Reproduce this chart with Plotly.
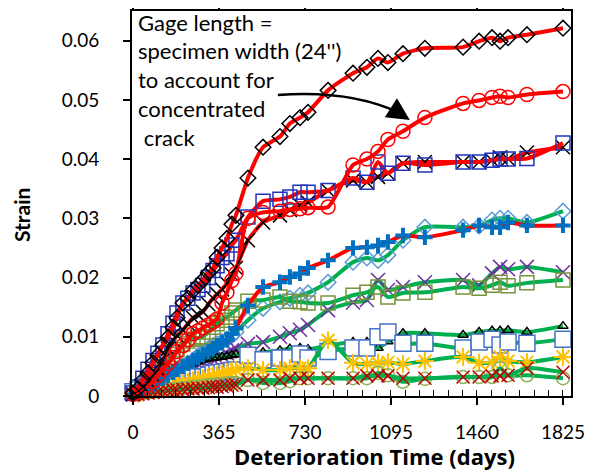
import plotly.graph_objects as go

# ── data (days, strain) ────────────────────────────────────────────────
days = [0, 21, 42, 64, 85, 106, 127, 149, 170, 187, 212, 233, 255, 276, 297, 320, 340,
        357, 378, 399, 420, 437, 488, 552, 624, 666, 709, 743, 828, 934, 993, 1040, 1082,
        1146, 1239, 1401, 1469, 1524, 1558, 1592, 1672, 1825]

black_diamond = [0.0005, 0.0012, 0.0027, 0.0039, 0.0056, 0.0069, 0.0086, 0.0099, 0.0116, 0.0132,
                 0.0157, 0.0165, 0.0178, 0.0187, 0.0196, 0.0208, 0.0216, 0.0234, 0.0250, 0.0266,
                 0.0290, 0.0305, 0.0368, 0.0420, 0.0438, 0.0460, 0.0470, 0.0479, 0.0516, 0.0545,
                 0.0555, 0.0570, 0.0563, 0.0578, 0.0587, 0.0589, 0.0599, 0.0605, 0.0599, 0.0605,
                 0.0610, 0.0621]
red_circle = [0.0003, 0.0005, 0.0010, 0.0018, 0.0025, 0.0035, 0.0045, 0.0055, 0.0065, 0.0075,
              0.0085, 0.0095, 0.0105, 0.0110, 0.0115, 0.0120, 0.0125, 0.0130, 0.0157, 0.0175,
              0.0195, 0.0207, 0.0300, 0.0310, 0.0312, 0.0315, 0.0316, 0.0318, 0.0319, 0.0390,
              0.0400, 0.0413, 0.0433, 0.0447, 0.0470, 0.0494, 0.0499, 0.0504, 0.0506, 0.0504,
              0.0509, 0.0514]
blue_square = [0.0005, 0.0015, 0.0030, 0.0045, 0.0060, 0.0072, 0.0086, 0.0105, 0.0123, 0.0140,
               0.0157, 0.0165, 0.0174, 0.0180, 0.0187, 0.0200, 0.0212, 0.0220, 0.0234, 0.0240,
               0.0255, 0.0263, 0.0302, 0.0329, 0.0332, 0.0336, 0.0344, 0.0344, 0.0347, 0.0368,
               0.0361, 0.0395, 0.0376, 0.0393, 0.0390, 0.0395, 0.0395, 0.0398, 0.0400, 0.0400,
               0.0401, 0.0427]
black_x = [0.0003, 0.0008, 0.0015, 0.0025, 0.0035, 0.0045, 0.0060, 0.0080, 0.0094, 0.0102,
           0.0111, 0.0122, 0.0132, 0.0137, 0.0142, 0.0155, 0.0165, 0.0172, 0.0180, 0.0190,
           0.0205, 0.0216, 0.0263, 0.0293, 0.0305, 0.0314, 0.0322, 0.0327, 0.0347, 0.0364,
           0.0361, 0.0370, 0.0376, 0.0393, 0.0395, 0.0395, 0.0395, 0.0398, 0.0403, 0.0400,
           0.0411, 0.0420]
blue_plus = [0.0003, 0.0005, 0.0010, 0.0015, 0.0020, 0.0025, 0.0030, 0.0035, 0.0040, 0.0045,
             0.0050, 0.0055, 0.0060, 0.0065, 0.0070, 0.0075, 0.0080, 0.0085, 0.0090, 0.0095,
             0.0105, 0.0115, 0.0153, 0.0184, 0.0192, 0.0201, 0.0207, 0.0216, 0.0229, 0.0250,
             0.0251, 0.0254, 0.0260, 0.0271, 0.0268, 0.0280, 0.0288, 0.0285, 0.0285, 0.0293,
             0.0288, 0.0288]
lightblue_diamond = [0.0003, 0.0005, 0.0010, 0.0015, 0.0020, 0.0025, 0.0030, 0.0035, 0.0040, 0.0045,
                     0.0050, 0.0055, 0.0060, 0.0068, 0.0074, 0.0080, 0.0085, 0.0088, 0.0092, 0.0096,
                     0.0102, 0.0108, 0.0128, 0.0148, 0.0159, 0.0165, 0.0170, 0.0174, 0.0192, 0.0226,
                     0.0233, 0.0229, 0.0238, 0.0263, 0.0285, 0.0285, 0.0287, 0.0297, 0.0300, 0.0300,
                     0.0293, 0.0312]
purple_x = [0.0003, 0.0005, 0.0008, 0.0010, 0.0015, 0.0020, 0.0030, 0.0035, 0.0040, 0.0043,
            0.0047, 0.0050, 0.0052, 0.0055, 0.0058, 0.0060, 0.0062, 0.0064, 0.0068, 0.0072,
            0.0077, 0.0080, 0.0088, 0.0091, 0.0100, 0.0106, 0.0112, 0.0120, 0.0145, 0.0158,
            0.0162, 0.0196, 0.0179, 0.0184, 0.0192, 0.0196, 0.0187, 0.0207, 0.0218, 0.0214,
            0.0218, 0.0209]
olive_square = [0.0005, 0.0010, 0.0015, 0.0020, 0.0030, 0.0040, 0.0050, 0.0060, 0.0070, 0.0078,
                0.0088, 0.0093, 0.0096, 0.0098, 0.0100, 0.0108, 0.0116, 0.0122, 0.0128, 0.0133,
                0.0140, 0.0145, 0.0160, 0.0162, 0.0167, 0.0160, 0.0159, 0.0157, 0.0157, 0.0170,
                0.0175, 0.0184, 0.0167, 0.0174, 0.0175, 0.0184, 0.0182, 0.0187, 0.0192, 0.0186,
                0.0191, 0.0196]
black_triangle = [0.0003, 0.0005, 0.0008, 0.0010, 0.0015, 0.0020, 0.0025, 0.0030, 0.0035, 0.0040,
                  0.0045, 0.0050, 0.0055, 0.0058, 0.0061, 0.0063, 0.0064, 0.0065, 0.0066, 0.0067,
                  0.0069, 0.0070, 0.0072, 0.0074, 0.0077, 0.0080, 0.0081, 0.0079, 0.0085, 0.0091,
                  0.0091, 0.0081, 0.0092, 0.0106, 0.0106, 0.0103, 0.0108, 0.0110, 0.0110, 0.0111,
                  0.0108, 0.0118]
white_square = [0.0007, 0.0010, 0.0015, 0.0020, 0.0027, 0.0027, 0.0027, 0.0029, 0.0030, 0.0030,
                0.0030, 0.0031, 0.0032, 0.0032, 0.0032, 0.0035, 0.0038, 0.0039, 0.0040, 0.0041,
                0.0043, 0.0044, 0.0069, 0.0061, 0.0064, 0.0064, 0.0071, 0.0064, 0.0075, 0.0081,
                0.0081, 0.0100, 0.0108, 0.0089, 0.0089, 0.0081, 0.0091, 0.0096, 0.0086, 0.0091,
                0.0089, 0.0096]
gold_star = [0.0003, 0.0004, 0.0006, 0.0008, 0.0010, 0.0012, 0.0014, 0.0016, 0.0018, 0.0020,
             0.0022, 0.0024, 0.0026, 0.0028, 0.0030, 0.0032, 0.0034, 0.0036, 0.0038, 0.0040,
             0.0042, 0.0044, 0.0047, 0.0044, 0.0044, 0.0047, 0.0047, 0.0047, 0.0094, 0.0056,
             0.0054, 0.0056, 0.0057, 0.0054, 0.0059, 0.0066, 0.0056, 0.0057, 0.0066, 0.0059,
             0.0057, 0.0066]
green_circle = [0.0003, 0.0003, 0.0005, 0.0006, 0.0007, 0.0008, 0.0009, 0.0010, 0.0011, 0.0012,
                0.0013, 0.0014, 0.0015, 0.0016, 0.0017, 0.0018, 0.0019, 0.0020, 0.0020, 0.0021,
                0.0022, 0.0022, 0.0027, 0.0022, 0.0022, 0.0025, 0.0030, 0.0030, 0.0030, 0.0030,
                0.0030, 0.0039, 0.0035, 0.0024, 0.0029, 0.0032, 0.0032, 0.0032, 0.0047, 0.0035,
                0.0035, 0.0030]
red_x = [0.0002, 0.0003, 0.0004, 0.0005, 0.0006, 0.0007, 0.0008, 0.0009, 0.0010, 0.0010,
         0.0011, 0.0012, 0.0012, 0.0013, 0.0013, 0.0014, 0.0015, 0.0015, 0.0016, 0.0017,
         0.0018, 0.0019, 0.0027, 0.0027, 0.0027, 0.0030, 0.0030, 0.0030, 0.0030, 0.0030,
         0.0034, 0.0034, 0.0034, 0.0030, 0.0030, 0.0032, 0.0032, 0.0034, 0.0034, 0.0035,
         0.0047, 0.0040]

x_ticks = [0, 365, 730, 1095, 1460, 1825]
y_ticks = [0, 0.01, 0.02, 0.03, 0.04, 0.05, 0.06]
y_labels = ["0", "0.01", "0.02", "0.03", "0.04", "0.05", "0.06"]

note_lines = ["Gage length =", "specimen width (24'')", "to account for", "concentrated", " crack"]

RED = "#FF0000"
GREEN = "#00B050"
FONT = "Lato"

# (values, marker symbol, marker colour, size, fill)
green_series = [
    (lightblue_diamond, "diamond-open", "#5B9BD5", 12, None),
    (purple_x, "x-thin-open", "#7030A0", 14, None),
    (olive_square, "square-open", "#77933C", 14, None),
    (black_triangle, "triangle-up-open", "#000000", 9, None),
    (white_square, "square", "#4472C4", 16, "white"),
    (gold_star, "asterisk-open", "#FFC000", 15, None),
    (green_circle, "circle-open", "#8DB255", 13, None),
    (red_x, "x-thin-open", "#C00000", 13, None),
]
red_series = [
    (blue_plus, "cross", "#0070C0", 11, "#0070C0"),
    (black_x, "x-thin-open", "#000000", 14, None),
    (blue_square, "square-open", "#2233BB", 14, None),
    (red_circle, "circle-open", "#FF0000", 14, None),
    (black_diamond, "diamond-open", "#000000", 12, None),
]

fig = go.Figure()


def add_series(vals, line_color, symbol, mcolor, size, fill):
    marker = dict(symbol=symbol, size=size, color=fill if fill else mcolor,
                  line=dict(color=mcolor, width=1.5))
    if symbol == "cross":
        marker = dict(symbol="cross-thin-open", size=size, color=mcolor,
                      line=dict(color=mcolor, width=4))
    if symbol == "asterisk-open":
        marker["line"]["width"] = 2
    fig.add_trace(go.Scatter(
        x=days, y=vals, mode="lines+markers",
        line=dict(color=line_color, width=4, shape="spline", smoothing=0.6),
        marker=marker, showlegend=False, cliponaxis=False,
    ))


for s in green_series:
    add_series(s[0], GREEN, *s[1:])
for s in red_series:
    add_series(s[0], RED, *s[1:])

# thin black line along the early part of the black-x series
n_early = days.index(488) + 1
fig.add_trace(go.Scatter(
    x=days[:n_early], y=black_x[:n_early], mode="lines",
    line=dict(color="black", width=1.5, shape="spline", smoothing=0.6),
    showlegend=False,
))

# ── note + curved arrow ────────────────────────────────────────────────
for i, t in enumerate(note_lines):
    fig.add_annotation(x=0.009, xref="paper", y=0.0631 - i * 0.00485, yref="y",
                       text=t, showarrow=False, xanchor="left", yanchor="middle",
                       font=dict(family=FONT, size=22, color="black"))

fig.add_shape(type="path", xref="x", yref="y",
              path="M 615,0.0508 Q 921,0.0517 1130,0.0478",
              line=dict(color="black", width=2.5))
fig.add_annotation(x=1175, y=0.0466, ax=1128, ay=0.0478, axref="x", ayref="y",
                   xref="x", yref="y", text="", showarrow=True,
                   arrowhead=2, arrowsize=1.8, arrowwidth=2.5, arrowcolor="black")

# ── axis titles ───────────────────────────────────────────────────────
fig.add_annotation(x=1027, xref="x", y=0, yref="paper", yshift=-60, yanchor="middle",
                   text="<b>Deterioration Time (days)</b>", showarrow=False,
                   font=dict(family="Open Sans", size=22, color="black"))
fig.add_annotation(x=0, xref="paper", y=0.47, yref="paper", xshift=-111, xanchor="center",
                   text="<b>Strain</b>", showarrow=False, textangle=-90,
                   font=dict(family=FONT, size=21, color="black"))

# page body adds an 8px offset, so the figure is 8px smaller and shifted
fig.update_layout(
    width=597, height=464,
    margin=dict(l=124, r=34, t=3, b=76, autoexpand=False),
    plot_bgcolor="white", paper_bgcolor="white",
    font=dict(family=FONT, size=19, color="black"),
    xaxis=dict(range=[-4, 1859], tickvals=x_ticks, ticktext=[str(v) for v in x_ticks],
               showgrid=False, zeroline=False, showline=True, linecolor="black",
               linewidth=2, mirror=True, ticks="outside", ticklen=7, tickwidth=1.5,
               tickcolor="black", ticklabelstandoff=11,
               minor=dict(ticks="inside", dtick=365 / 6, tick0=0, ticklen=6,
                          tickwidth=1, tickcolor="black", showgrid=False)),
    xaxis2=dict(range=[-4, 1859], overlaying="x", side="top", tickvals=x_ticks,
                showticklabels=False, showgrid=False, zeroline=False,
                ticks="outside", ticklen=7, tickwidth=1.5, tickcolor="black"),
    yaxis=dict(range=[0, 0.065], tickvals=y_ticks, ticktext=y_labels,
               showgrid=False, zeroline=False, showline=True, linecolor="black",
               linewidth=2, mirror=True, ticks="outside", ticklen=7, tickwidth=1.5,
               tickcolor="black", ticklabelstandoff=20),
)
# a hidden point keeps the top axis alive
fig.add_trace(go.Scatter(x=[0], y=[0], xaxis="x2", mode="markers",
                         marker=dict(opacity=0), showlegend=False, hoverinfo="skip"))

fig.write_html("out.html")
